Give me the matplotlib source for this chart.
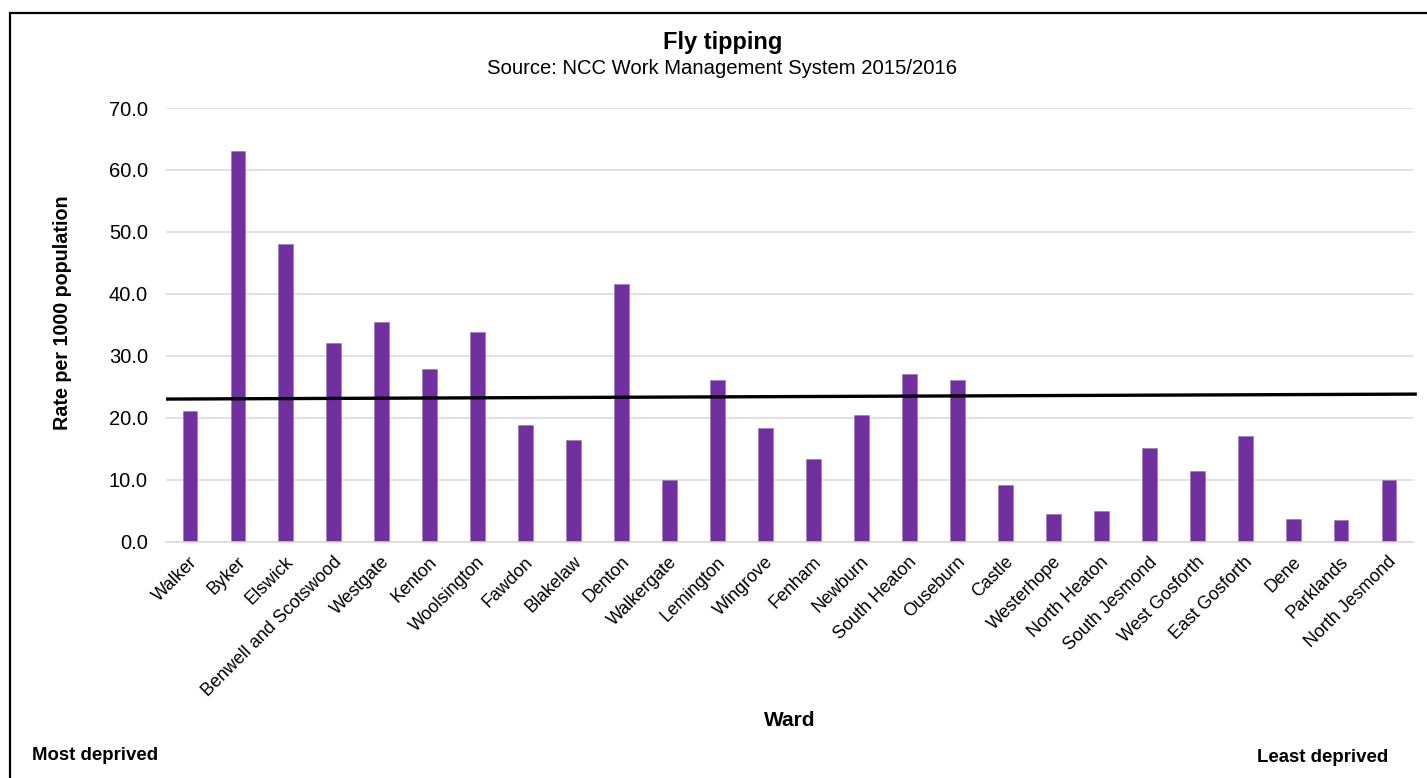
import matplotlib
matplotlib.use("Agg")
import matplotlib.pyplot as plt
from matplotlib.patches import Rectangle
from matplotlib.transforms import ScaledTranslation

plt.rcParams["font.family"] = ["Liberation Sans", "DejaVu Sans"]

wards = [
    "Walker", "Byker", "Elswick", "Benwell and Scotswood", "Westgate", "Kenton",
    "Woolsington", "Fawdon", "Blakelaw", "Denton", "Walkergate", "Lemington",
    "Wingrove", "Fenham", "Newburn", "South Heaton", "Ouseburn", "Castle",
    "Westerhope", "North Heaton", "South Jesmond", "West Gosforth",
    "East Gosforth", "Dene", "Parklands", "North Jesmond",
]
rates = [
    21.0, 63.1, 48.1, 32.1, 35.4, 27.9,
    33.8, 18.8, 16.4, 41.6, 9.9, 26.0,
    18.4, 13.4, 20.5, 27.1, 26.0, 9.2,
    4.4, 4.9, 15.1, 11.4,
    17.1, 3.7, 3.4, 9.9,
]
# Reference line (city level), value at the left and right ends of the axis
city_line = [23.0, 23.8]

yticks = [0, 10, 20, 30, 40, 50, 60, 70]

W, H = 1427, 778
fig = plt.figure(figsize=(W / 100, H / 100), dpi=100)
fig.patch.set_facecolor("white")

# Chart frame
fig.patches.append(Rectangle((10 / W, -0.05), 1.2, 1 - 12.5 / H + 0.05,
                             transform=fig.transFigure, fill=False,
                             edgecolor="black", linewidth=1.6))

ax = fig.add_axes([166 / W, 1 - 541.5 / H, (1413 - 166) / W, (541.5 - 108) / H])
x = list(range(len(wards)))
ax.bar(x, rates, width=0.31, color="#7030A0", edgecolor="#9a6cc0",
       linewidth=0.4, zorder=2)

n = len(wards)
ax.plot([-0.5, n - 0.5 + 0.08], city_line, color="black", linewidth=2.4,
        solid_capstyle="butt", zorder=3, clip_on=False)

ax.set_xlim(-0.5, n - 0.5)
ax.set_ylim(0, 70)
ax.set_yticks(yticks)
ax.set_yticklabels([f"{v:.1f}" for v in yticks], fontsize=14.5)
ax.set_xticks(x)
ax.set_xticklabels(wards, rotation=45, ha="right", va="center",
                   rotation_mode="anchor", fontsize=12.9)
ax.tick_params(axis="both", length=0)
ax.tick_params(axis="y", pad=13)
ax.tick_params(axis="x", pad=13)
shift = ScaledTranslation(5 / 100, 0, fig.dpi_scale_trans)
for lbl in ax.get_xticklabels():
    lbl.set_transform(lbl.get_transform() + shift)
ax.yaxis.grid(True, color="#d9d9d9", linewidth=1.1, zorder=0)
ax.set_axisbelow(True)
for s in ["top", "right", "left"]:
    ax.spines[s].set_visible(False)
ax.spines["bottom"].set_color("#d9d9d9")
ax.spines["bottom"].set_linewidth(1.1)

fig.text(62 / W, 1 - 313 / H, "Rate per 1000 population", rotation=90,
         ha="center", va="center", fontsize=14.2, fontweight="bold")

fig.text(723 / W, 1 - 43 / H, "Fly tipping", ha="center", va="center",
         fontsize=17, fontweight="bold")
fig.text(722 / W, 1 - 69 / H, "Source: NCC Work Management System 2015/2016",
         ha="center", va="center", fontsize=14.6)

fig.text(790 / W, 1 - 721 / H, "Ward", ha="center", va="center",
         fontsize=15, fontweight="bold")
fig.text(32 / W, 1 - 756 / H, "Most deprived", ha="left", va="center",
         fontsize=13.4, fontweight="bold")
fig.text(1388 / W, 1 - 757 / H, "Least deprived", ha="right", va="center",
         fontsize=13.4, fontweight="bold")

fig.savefig("out.png", dpi=100)
